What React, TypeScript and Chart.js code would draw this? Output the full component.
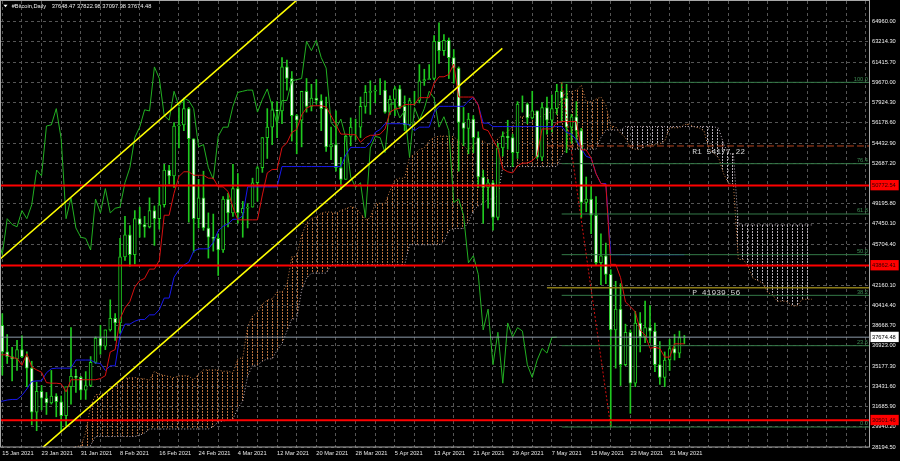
import React, { useEffect, useRef } from 'react';
import { Chart, registerables } from 'chart.js';

Chart.register(...registerables);

// ---------- DATA ----------
const symbolName = '#Bitcoin,Daily';

// Off-screen history (12 Nov 2020 .. 14 Jan 2021) – highs / lows only, used by the Ichimoku indicator
const histHigh = [
  16300, 16500, 16300, 16000, 16900, 17900, 18500, 18100, 18800, 18900, 18700, 18800, 19400, 19500, 18900, 17400, 17900, 18300, 19800,
  19900, 19300, 19600, 19500, 19200, 19400, 19400, 19300, 18600, 18600, 18300, 18900, 19400, 19350, 19500, 21500, 23800, 23300, 24200, 24300, 24100, 24000, 24100, 23800, 24800, 26900, 28400, 27400, 27400, 28900, 29300,
  29600, 33300, 34800, 33600, 34500, 36900, 40400, 41900, 41400, 41300, 38300, 36600, 37800, 40100,
];
const histLow = [
  15400, 15950, 15700, 15800, 15900, 16700, 17300, 17400, 17800, 18400, 17700, 18000, 18100, 18600, 16300, 16500, 16900, 17600, 18200,
  18300, 18300, 18900, 18600, 18600, 18900, 18900, 18200, 17700, 17900, 17600, 18000, 18800, 19000, 19100, 19300, 21200, 22400, 23000, 23100, 22400, 22600, 22700, 22700, 23400, 24500, 25800, 26100, 25900, 27300, 28000,
  28800, 29000, 32000, 28100, 29900, 33500, 36300, 36500, 38700, 35100, 30400, 32500, 32400, 36700,
];

// Daily candles, 15 Jan 2021 .. 3 Jun 2021 (day 0 = 15 Jan)
const openP = [
  38700, 36400, 36000, 35800, 36600, 36000, 35000, 31200, 33000, 32400, 32000, 32600, 32100, 30900, 33400, 34300, 34200,
  33100, 33500, 35500, 37600, 36900, 38300, 39300, 38900, 44600, 46500, 44800, 47900, 47400, 47200, 48600, 47900, 49100, 52100, 51600, 55900, 56000, 57400, 54800, 47900, 49700, 47100, 46300, 46200,
  45200, 49600, 48400, 50500, 48400, 48800, 48900, 51000, 52300, 54900, 55800, 57300, 57200, 61000, 60000, 56800, 56400, 58900, 57600, 58300, 58100, 57400, 54100, 54300, 52300, 51300, 55000, 55800, 55800, 57600, 58800,
  58900, 59000, 59000, 57100, 58200, 59100, 57600, 56000, 58100, 58100, 59800, 59900, 60000, 63200, 62400, 63300, 61800, 60900, 56200, 55700, 56500, 54900, 51500, 50600, 51000, 48000, 54000, 55000, 54900, 53600,
  57800, 57800, 56600, 57200, 53200, 57500, 56400, 57400, 58900, 58300, 55800, 56700, 55500, 49300, 49600, 48200, 44100, 44700, 43100, 38300, 40100, 35300, 38100, 33700, 38900, 37700, 38500, 38200, 35300, 34200, 35700,
  36700, 36300, 37648.47,
];
const highP = [
  39700, 37900, 36800, 37400, 37800, 36400, 35600, 33800, 33500, 32900, 34800, 32800, 32600, 31900, 38500, 34900, 34300,
  34700, 36000, 37700, 38700, 38300, 40900, 39700, 46200, 48100, 47300, 48600, 48900, 48100, 49700, 49000, 50600, 52600, 52500, 56200, 57500, 58300, 57500, 54800, 51300, 52000, 48400, 48300, 46600,
  49800, 50100, 52600, 51800, 49400, 49200, 51400, 52400, 54900, 57400, 58000, 58000, 61800, 61600, 60600, 56900, 58900, 60000, 59500, 59900, 58600, 58400, 55800, 57200, 53200, 55100, 56600, 56500, 58400, 59400, 59800,
  59400, 60000, 59800, 58500, 59300, 59400, 58500, 58300, 58900, 61200, 60800, 61200, 63700, 64800, 63800, 63500, 62500, 61000, 57500, 57000, 56800, 55400, 52100, 51300, 51200, 54400, 55400, 56400, 55200, 58000,
  58500, 57900, 58900, 57200, 57900, 58400, 58600, 59500, 59670, 59500, 56900, 58000, 55700, 51500, 50700, 49800, 46600, 45800, 43500, 42500, 42300, 38800, 38300, 39900, 39800, 40800, 40400, 38900, 37300, 36400, 37500,
  37900, 38200, 37822.98,
];
const lowP = [
  34400, 35400, 33900, 34800, 35900, 33400, 30100, 29600, 31400, 31000, 31900, 30800, 29500, 30000, 31900, 32900, 32300,
  32300, 33400, 35400, 36200, 36600, 38200, 37400, 38000, 44300, 43800, 44000, 46300, 46300, 47100, 45600, 47000, 48900, 50900, 50600, 54000, 55500, 47600, 45000, 47100, 46900, 44500, 45100, 43000,
  45000, 47200, 48100, 47500, 46300, 47100, 48900, 49400, 51900, 53100, 54300, 54900, 56100, 59000, 54600, 53500, 54100, 57100, 57200, 57800, 55500, 53700, 53000, 52000, 50400, 51300, 54200, 54700, 54900, 57000, 56900,
  57900, 58600, 57000, 56900, 56800, 57400, 55500, 55900, 57700, 57900, 59400, 59900, 59900, 61300, 62000, 60000, 59600, 52000, 54200, 53500, 53600, 50600, 47500, 48800, 46900, 47800, 53300, 53900, 52400, 53100,
  57100, 56100, 56500, 53100, 52900, 55200, 55400, 56900, 56300, 53600, 54400, 54500, 48000, 48500, 46600, 43900, 42200, 42300, 29920, 35000, 33500, 35200, 31100, 33400, 36400, 37200, 37200, 34700, 33600, 33400, 34800,
  35700, 35900, 37097.98,
];
const closeP = [
  36400, 36000, 35800, 36600, 36000, 35000, 31200, 33000, 32400, 32000, 32600, 32100, 30900, 33400, 34300, 34200, 33100,
  33500, 35500, 37600, 36900, 38300, 39300, 38900, 44600, 46500, 44800, 47900, 47400, 47200, 48600, 47900, 49100, 52100, 51600, 55900, 56000, 57400, 54800, 47900, 49700, 47100, 46300, 46200, 45200,
  49600, 48400, 50500, 48400, 48800, 48900, 51000, 52300, 54900, 55800, 57300, 57200, 61000, 60000, 56800, 56400, 58900, 57600, 58300, 58100, 57400, 54100, 54300, 52300, 51300, 55000, 55800, 55800, 57600, 58800, 58900,
  59000, 59000, 57100, 58200, 59100, 57600, 56000, 58100, 58100, 59800, 59900, 60000, 63200, 62400, 63300, 61800, 60900, 56200, 55700, 56500, 54900, 51500, 50600, 51000, 48000, 54000, 55000, 54900, 53600, 57800,
  57800, 56600, 57200, 53200, 57500, 56400, 57400, 58900, 58300, 55800, 56700, 55500, 49300, 49600, 48200, 44100, 44700, 43100, 38300, 40100, 35300, 38100, 33700, 38900, 37700, 38500, 38200, 35300, 34200, 35700, 36700,
  36300, 37648.47, 37674.48,
];

// axis tick labels
const yTickValues = [28194.5, 29940.2, 31685.9, 33431.6, 35177.3, 36923.0, 38668.7, 40414.4, 42160.1, 45704.4, 47450.1, 49195.8, 52687.2, 54432.9, 56178.6, 57924.3, 59670.0, 61415.7, 63214.3, 64960.0];
const xTickLabels = ['15 Jan 2021', '23 Jan 2021', '31 Jan 2021', '8 Feb 2021', '16 Feb 2021', '24 Feb 2021', '4 Mar 2021', '12 Mar 2021', '20 Mar 2021', '28 Mar 2021', '5 Apr 2021', '13 Apr 2021', '21 Apr 2021', '29 Apr 2021', '7 May 2021', '15 May 2021', '23 May 2021', '31 May 2021'];

// horizontal support / resistance levels
const redLevels = [50772.54, 43862.41, 30501.46];

// channel trend lines (day, price)
const channelUpperDays = [-1, 62];
const channelUpperPrices = [44209, 67494];
const channelLowerDays = [6, 101.9];
const channelLowerPrices = [27328, 62604];

// Fibonacci retracement
const fibAnchorDays = [114, 124];
const fibAnchorPrices = [59670, 29920];
const fibLevels = [0, 23.6, 38.2, 50.0, 61.8, 76.4, 100.0];

// pivot levels
const pivotNames = ['R1', 'P'];
const pivotValues = [54177.22, 41939.56];
const pivotStartDay = 111;

// ---------- helpers ----------
function rangeMid(hi: number[], lo: number[], end: number, n: number): number | null {
  if (end - n + 1 < 0) return null;
  let h = -Infinity;
  let l = Infinity;
  for (let k = end - n + 1; k <= end; k++) {
    if (hi[k] > h) h = hi[k];
    if (lo[k] < l) l = lo[k];
  }
  return (h + l) / 2;
}

function makeHatch(color: string): any {
  const c = document.createElement('canvas');
  c.width = 5;
  c.height = 3;
  const g = c.getContext('2d') as CanvasRenderingContext2D;
  g.fillStyle = color;
  g.fillRect(2, 0, 1, 2);
  return g.createPattern(c, 'repeat') || color;
}

const FONT = '"Liberation Sans", Arial, sans-serif';
const GRID = '#555555';
const WICK = '#1fc81f';
const FIB = '#347a48';
const X_MIN = -0.265;
const X_MAX = 176.63;
const Y_MIN = 28194.5;
const Y_MAX = 66690;

export default function App() {
  const ref = useRef<HTMLCanvasElement>(null);

  useEffect(() => {
    const canvas = ref.current;
    if (!canvas) return;

    const allH = [...histHigh, ...highP];
    const allL = [...histLow, ...lowP];
    const off = histHigh.length;

    const tenkan: any[] = [];
    const kijun: any[] = [];
    for (let d = -1; d < closeP.length; d++) {
      tenkan.push({ x: d, y: rangeMid(allH, allL, off + d, 9) });
      kijun.push({ x: d, y: rangeMid(allH, allL, off + d, 26) });
    }
    const spanA: any[] = [];
    const spanB: any[] = [];
    for (let d = -13; d < closeP.length; d++) {
      const t = rangeMid(allH, allL, off + d, 9) as number;
      const k = rangeMid(allH, allL, off + d, 26) as number;
      const b = rangeMid(allH, allL, off + d, 52) as number;
      spanA.push({ x: d + 26, y: (t + k) / 2 });
      spanB.push({ x: d + 26, y: b });
    }
    const chikou = closeP.map((c, i) => ({ x: i - 26, y: c }));
    const wicks = closeP.map((_, i) => ({ x: i, y: [lowP[i], highP[i]] }));
    const bodies = closeP.map((c, i) => ({ x: i, y: [openP[i], c] }));
    const lastClose = closeP[closeP.length - 1];
    const fibPrice = (lvl: number) => fibAnchorPrices[1] + (fibAnchorPrices[0] - fibAnchorPrices[1]) * lvl / 100;

    const hLine = (y: number, x0: number, color: string, width: number, order: number, dash: number[] = []) => ({
      type: 'line',
      data: [{ x: x0, y }, { x: X_MAX + 1, y }],
      borderColor: color,
      borderWidth: width,
      borderDash: dash,
      pointRadius: 0,
      fill: false,
      order,
    });

    const hatchOrange = makeHatch('#b8703c');
    const hatchGray = makeHatch('#b4acb4');

    const markers: Record<string, { bg: string; fg: string }> = {};
    redLevels.forEach((v) => (markers[v.toFixed(2)] = { bg: '#ff0000', fg: '#300000' }));
    markers[lastClose.toFixed(2)] = { bg: '#ffffff', fg: '#000000' };
    const isMarker = (v: number) => markers[Number(v).toFixed(2)] !== undefined;

    const datasets: any[] = [
      {
        type: 'line', data: spanA, borderColor: '#c27a45', borderWidth: 1, borderDash: [1, 2], pointRadius: 0,
        fill: { target: 1, above: hatchOrange, below: hatchGray }, order: 100,
      },
      { type: 'line', data: spanB, borderColor: '#b9acb9', borderWidth: 1, borderDash: [1, 2], pointRadius: 0, fill: false, order: 99 },
      {
        type: 'bar', data: wicks, backgroundColor: WICK, borderWidth: 0, barThickness: 1, grouped: false, order: 90,
      },
      {
        type: 'bar', data: bodies,
        backgroundColor: (ctx: any) => (closeP[ctx.dataIndex] < openP[ctx.dataIndex] ? '#ffffff' : '#000000'),
        borderColor: WICK, borderWidth: 1, borderSkipped: false, barThickness: 3, grouped: false, order: 89,
      },
      { type: 'line', data: chikou, borderColor: '#22b022', borderWidth: 1, pointRadius: 0, fill: false, order: 70 },
      { type: 'line', data: kijun, borderColor: '#1818ee', borderWidth: 1, pointRadius: 0, fill: false, order: 60 },
      { type: 'line', data: tenkan, borderColor: '#d81010', borderWidth: 1, pointRadius: 0, fill: false, order: 59 },
      ...fibLevels.map((l) => hLine(fibPrice(l), fibAnchorDays[0], FIB, 1, 50)),
      {
        type: 'line',
        data: [{ x: fibAnchorDays[0], y: fibAnchorPrices[0] }, { x: fibAnchorDays[1], y: fibAnchorPrices[1] }],
        borderColor: '#d01010', borderWidth: 1, borderDash: [2, 2], pointRadius: 0, fill: false, order: 49,
      },
      hLine(pivotValues[0], pivotStartDay, '#b8431c', 1, 45, [7, 3]),
      hLine(pivotValues[1], pivotStartDay, '#8c7c18', 1.5, 45),
      hLine(lastClose, X_MIN - 1, '#8d9bab', 1, 42),
      ...redLevels.map((v) => hLine(v, X_MIN - 1, '#ff0000', 2, 40)),
      {
        type: 'line', data: channelUpperDays.map((d, i) => ({ x: d, y: channelUpperPrices[i] })),
        borderColor: '#ffff00', borderWidth: 1.6, pointRadius: 0, fill: false, order: 30,
      },
      {
        type: 'line', data: channelLowerDays.map((d, i) => ({ x: d, y: channelLowerPrices[i] })),
        borderColor: '#ffff00', borderWidth: 1.6, pointRadius: 0, fill: false, order: 30,
      },
    ];

    const overlay = {
      id: 'overlay',
      afterDatasetsDraw(chart: any) {
        const { ctx, chartArea: a, scales } = chart;
        const x = scales.x;
        const y = scales.y;
        ctx.save();
        ctx.beginPath();
        ctx.rect(a.left, a.top, a.right - a.left, a.bottom - a.top);
        ctx.clip();
        // fib labels
        ctx.font = `5.7px ${FONT}`;
        ctx.fillStyle = '#3e8c54';
        ctx.textAlign = 'right';
        ctx.textBaseline = 'bottom';
        fibLevels.forEach((l) => {
          ctx.fillText(l.toFixed(1), a.right - 1, y.getPixelForValue(fibPrice(l)) - 0.5);
        });
        // pivot labels
        ctx.font = '8px "Liberation Mono", "DejaVu Sans Mono", monospace';
        ctx.fillStyle = '#d4d4d4';
        ctx.textAlign = 'left';
        ctx.textBaseline = 'top';
        pivotNames.forEach((n, i) => {
          ctx.fillText(`${n} ${pivotValues[i].toFixed(2)}`, x.getPixelForValue(140.6), y.getPixelForValue(pivotValues[i]) + 1.5);
        });
        ctx.restore();
      },
      afterDraw(chart: any) {
        const { ctx, chartArea: a } = chart;
        ctx.save();
        ctx.strokeStyle = '#a8a8a8';
        ctx.lineWidth = 1;
        ctx.strokeRect(Math.round(a.left) - 0.5, Math.round(a.top) - 0.5, Math.round(a.right - a.left) + 1, Math.round(a.bottom - a.top) + 0.5);
        // title
        ctx.fillStyle = '#ffffff';
        ctx.beginPath();
        ctx.moveTo(3.5, 4.8);
        ctx.lineTo(7.5, 4.8);
        ctx.lineTo(5.5, 7.3);
        ctx.closePath();
        ctx.fill();
        ctx.font = `5.7px ${FONT}`;
        ctx.fillStyle = '#f0f0f0';
        ctx.textAlign = 'left';
        ctx.textBaseline = 'middle';
        ctx.fillText(symbolName, 11.7, 6.2);
        const n = closeP.length - 1;
        ctx.fillText([openP[n], highP[n], lowP[n], closeP[n]].map((v) => v.toFixed(2)).join(' '), 51.7, 6.2);
        ctx.restore();
      },
    };

    const chart = new Chart(canvas, {
      type: 'line',
      data: { datasets },
      options: {
        responsive: false,
        maintainAspectRatio: false,
        animation: false,
        events: [],
        layout: { padding: { left: 1, top: 1, right: 0, bottom: 0 } },
        plugins: { legend: { display: false }, tooltip: { enabled: false }, title: { display: false } },
        elements: { line: { tension: 0 } },
        scales: {
          x: {
            type: 'linear',
            min: X_MIN,
            max: X_MAX,
            offset: false,
            afterBuildTicks: (s: any) => {
              const t: any[] = [];
              for (let d = 0; d <= X_MAX; d += 4) t.push({ value: d });
              s.ticks = t;
            },
            afterFit: (s: any) => {
              s.height = 14;
              s.paddingLeft = 0;
              s.paddingRight = 0;
            },
            grid: { color: GRID, lineWidth: 1, drawTicks: false, offset: false },
            border: { display: false, dash: [3, 3] },
            ticks: {
              autoSkip: false,
              maxRotation: 0,
              minRotation: 0,
              align: 'start',
              padding: 3,
              color: '#e6e6e6',
              font: { family: FONT, size: 5.7 },
              callback: (v: any) => (v % 8 === 0 ? xTickLabels[v / 8] ?? '' : ''),
            },
          },
          y: {
            type: 'linear',
            position: 'right',
            min: Y_MIN,
            max: Y_MAX,
            afterBuildTicks: (s: any) => {
              const vals = [...yTickValues, ...redLevels, lastClose].sort((p, q) => p - q);
              s.ticks = vals.map((v) => ({ value: v }));
            },
            afterFit: (s: any) => {
              s.width = 31;
              s.paddingTop = 0;
              s.paddingBottom = 0;
            },
            grid: {
              color: (c: any) => (c.tick && isMarker(c.tick.value) ? 'rgba(0,0,0,0)' : GRID),
              lineWidth: 1,
              drawTicks: false,
            },
            border: { display: false, dash: [3, 3] },
            ticks: {
              autoSkip: false,
              padding: 3,
              font: { family: FONT, size: 5.7 },
              color: (c: any) => (c.tick && isMarker(c.tick.value) ? markers[Number(c.tick.value).toFixed(2)].fg : '#f0f0f0'),
              showLabelBackdrop: (c: any) => !!(c.tick && isMarker(c.tick.value)),
              backdropColor: (c: any) => (c.tick && isMarker(c.tick.value) ? markers[Number(c.tick.value).toFixed(2)].bg : 'rgba(0,0,0,0)'),
              backdropPadding: { top: 2, bottom: 1.5, left: 1.5, right: 3 },
              callback: (v: any) => Number(v).toFixed(2),
            },
          },
        },
      } as any,
      plugins: [overlay],
    } as any);

    return () => chart.destroy();
  }, []);

  return (
    <div style={{ position: 'fixed', left: 0, top: 0, width: 900, height: 461, background: '#000000', overflow: 'hidden' }}>
      <canvas ref={ref} width={900} height={461} style={{ display: 'block', width: 900, height: 461 }} />
    </div>
  );
}
